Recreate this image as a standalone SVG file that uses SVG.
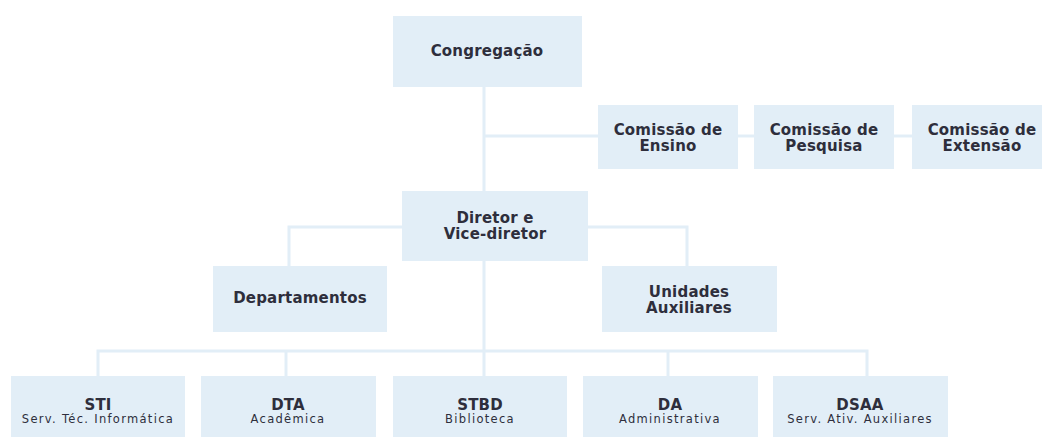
<svg xmlns="http://www.w3.org/2000/svg" width="1042" height="437" viewBox="0 0 1042 437">
<style>
.box{fill:#e2eef7}
.ln{fill:none;stroke:#e2eef7;stroke-width:3}
.t{font-family:"DejaVu Sans",Verdana,sans-serif;font-weight:bold;font-size:15px;fill:#2e2e3c;text-anchor:middle;letter-spacing:0.2px}
.s{font-family:"DejaVu Sans",Verdana,sans-serif;font-size:11.5px;fill:#2e2e3c;text-anchor:middle;letter-spacing:1.3px}
</style>
<rect width="1042" height="437" fill="#ffffff"/>
<g id="connectors" class="ln">
<path d="M484 87V376"/>
<path d="M484 136H598"/>
<path d="M738 136H754"/>
<path d="M894 136H912"/>
<path d="M402 227H289V266"/>
<path d="M588 227H687V266"/>
<path d="M98 376V351H867V376"/>
<path d="M286 351V376"/>
<path d="M668 351V376"/>
</g>
<g id="congregacao"><rect class="box" x="393" y="16" width="189" height="71"/><text class="t" x="487" y="56">Congregação</text></g>
<g id="comissao-ensino"><rect class="box" x="598" y="105" width="140" height="64"/><text class="t" x="668" y="135">Comissão de</text><text class="t" x="668" y="151">Ensino</text></g>
<g id="comissao-pesquisa"><rect class="box" x="754" y="105" width="140" height="64"/><text class="t" x="824" y="135">Comissão de</text><text class="t" x="824" y="151">Pesquisa</text></g>
<g id="comissao-extensao"><rect class="box" x="912" y="105" width="140" height="64"/><text class="t" x="982" y="135">Comissão de</text><text class="t" x="982" y="151">Extensão</text></g>
<g id="diretor"><rect class="box" x="402" y="191" width="186" height="70"/><text class="t" x="495" y="223">Diretor e</text><text class="t" x="495" y="239">Vice-diretor</text></g>
<g id="departamentos"><rect class="box" x="213" y="266" width="174" height="66"/><text class="t" x="300" y="303">Departamentos</text></g>
<g id="unidades"><rect class="box" x="602" y="266" width="175" height="66"/><text class="t" x="689" y="297">Unidades</text><text class="t" x="689" y="313">Auxiliares</text></g>
<g id="sti"><rect class="box" x="11" y="376" width="174" height="64"/><text class="t" x="98" y="410">STI</text><text class="s" x="98" y="423">Serv. Téc. Informática</text></g>
<g id="dta"><rect class="box" x="201" y="376" width="175" height="64"/><text class="t" x="288" y="410">DTA</text><text class="s" x="288" y="423">Acadêmica</text></g>
<g id="stbd"><rect class="box" x="393" y="376" width="174" height="64"/><text class="t" x="480" y="410">STBD</text><text class="s" x="480" y="423">Biblioteca</text></g>
<g id="da"><rect class="box" x="583" y="376" width="175" height="64"/><text class="t" x="670" y="410">DA</text><text class="s" x="670" y="423">Administrativa</text></g>
<g id="dsaa"><rect class="box" x="773" y="376" width="175" height="64"/><text class="t" x="860" y="410">DSAA</text><text class="s" x="860" y="423">Serv. Ativ. Auxiliares</text></g>
</svg>
